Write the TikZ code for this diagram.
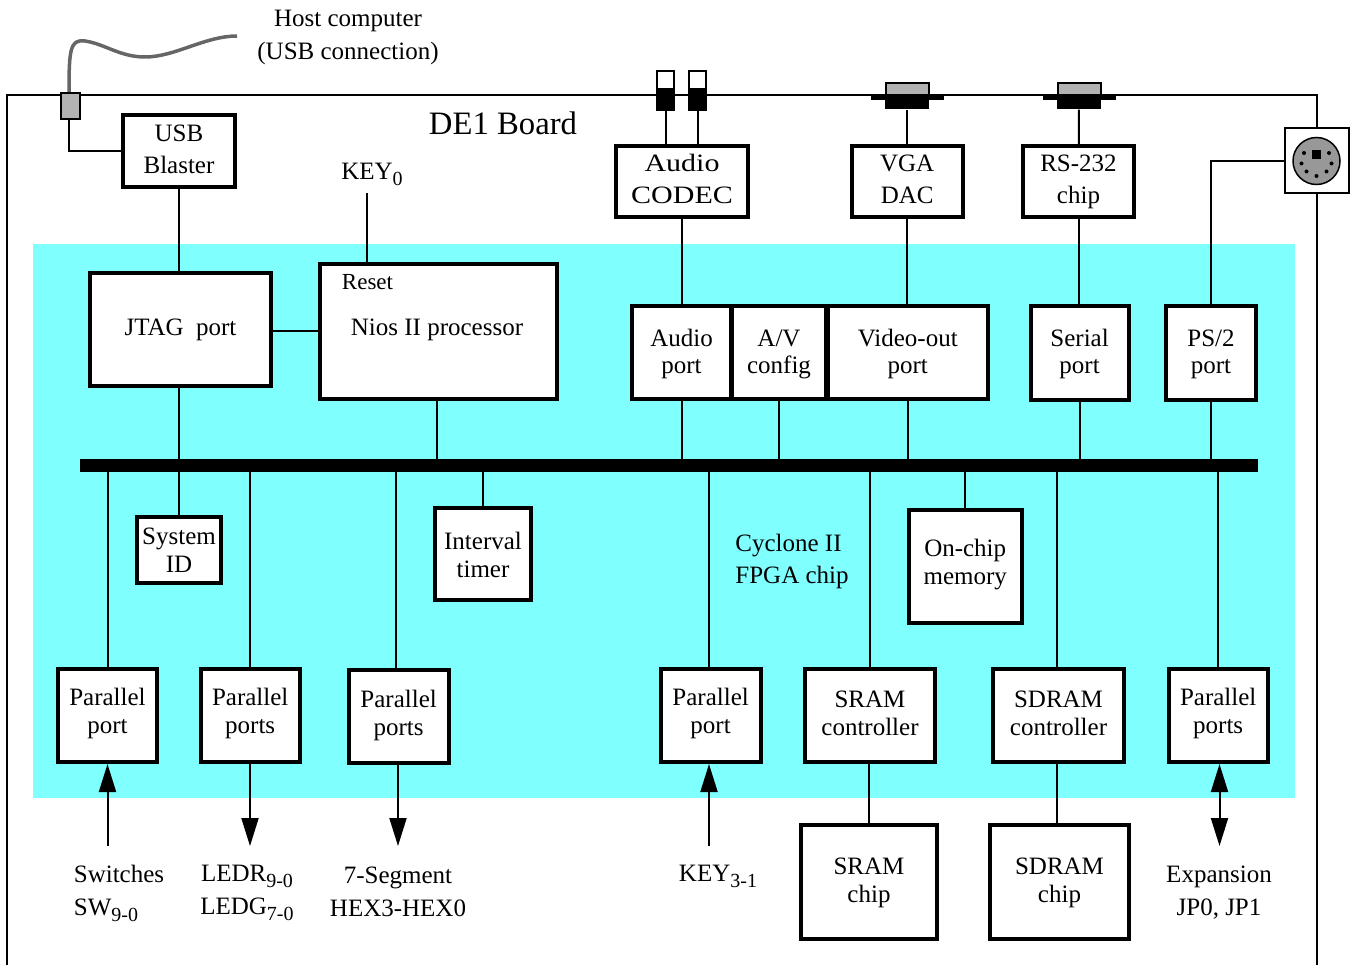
\documentclass[tikz,border=0pt]{standalone}
\usepackage{amsmath}
\usepackage{fontspec}
\setmainfont{Liberation Serif}
\newfontfamily\widefont[FakeStretch=1.2]{Liberation Serif}
\usetikzlibrary{arrows.meta, positioning}
\definecolor{fpga}{HTML}{80FFFF}
\definecolor{metal}{HTML}{B3B3B3}
\newcommand{\low}[1]{\raisebox{-6pt}{\fontsize{20}{20}\selectfont #1}}

\begin{document}
\begin{tikzpicture}[x=1pt, y=-1pt,
  box/.style={draw, fill=white, line width=4pt, align=center, inner sep=0pt, font=\fontsize{25}{28}\selectfont},
  lbox/.style={box, font=\fontsize{25}{32}\selectfont},
  wbox/.style={box, font=\widefont\fontsize{25}{32}\selectfont},
  boxsize/.style 2 args={minimum width=#1pt+2pt, minimum height=#2pt+2pt},
  textrise/.style={text height=#1pt, text depth=0pt},
  part/.style={draw, line width=2pt, inner sep=0pt},
  solid part/.style={fill=black, inner sep=0pt},
  lab/.style={align=center, inner sep=0pt, font=\fontsize{25}{33}\selectfont},
  wire/.style={line width=2pt},
  arrow/.style={line width=2pt, -{Stealth[inset=0pt, length=28pt, width=17pt]}},
  darrow/.style={line width=2pt, {Stealth[inset=0pt, length=28pt, width=17pt]}-{Stealth[inset=0pt, length=28pt, width=17pt]}}
]
  \useasboundingbox (0,0) rectangle (1352,965);

  % board and chip
  \coordinate (bl) at (7,965);
  \coordinate (tl) at (7,95);
  \coordinate (tr) at (1317,95);
  \coordinate (br) at (1317,965);
  \draw[wire] (bl) -- (tl) -- (tr) -- (br);
  \node[fill=fpga, inner sep=0pt, minimum width=1262pt, minimum height=554pt] (chip) at (664,521) {};
  \node[lab, font=\fontsize{32.7}{36}\selectfont] (board) at (503,123) {DE1 Board};
  \node[lab, align=left, font=\fontsize{25}{32}\selectfont] (cyclone) at (792,561) {Cyclone II\\FPGA chip};

  % connectors on the board edge
  \node[part, fill=metal, minimum width=19pt, minimum height=26pt] (usbconn) at (70.5,106) {};
  \draw[line width=3.5pt, black!60] ([xshift=-1.5pt]usbconn.north) .. controls (69,50) and (70,39) .. (85,41)
    .. controls (105,44) and (120,57) .. (145,57) .. controls (175,57) and (205,36) .. (237,36);
  \node[lab] (host) at (348,37) {Host computer\\(USB connection)};

  \foreach \name/\xpos in {jacka/665.7, jackb/697.7} {
    \node[part, fill=white, minimum width=17pt, minimum height=18pt] (\name top) at (\xpos,80) {};
    \node[solid part, minimum width=19pt, minimum height=23pt] (\name) at (\xpos,99.5) {};
  }
  \foreach \name/\xpos in {vga/907.2, rs/1079} {
    \node[part, fill=metal, minimum width=43pt, minimum height=12pt] (\name top) at (\xpos,89) {};
    \node[solid part, minimum width=73pt, minimum height=5pt] (\name flange) at (\xpos,97.5) {};
    \node[solid part, minimum width=44pt, minimum height=10pt] (\name conn) at (\xpos,104.5) {};
  }
  \node[draw, fill=white, line width=2pt, minimum width=64pt, minimum height=65pt, inner sep=0pt] (psconn) at (1316.5,161) {};
  \node[draw, fill=metal!85!black, line width=1.5pt, circle, minimum size=47pt, inner sep=0pt] (psdin) at (psconn) {};
  \node[solid part, minimum size=9pt] (pskey) at (1316.5,154.5) {};
  \foreach \dx/\dy in {-12.5/-8, 12.5/-8, -15/2.5, 15/2.5, -10/10.5, 10/10.5, 0/15}
    \fill (1316.5+\dx,161+\dy) circle (2pt);

  % boxes above the bus
  \node[lbox, boxsize={110}{70}, textrise=46] (usb) at (179,151) {USB\\Blaster};
  \node[wbox, boxsize={130}{69}, textrise=45] (codec) at (682,181.5) {Audio\\CODEC};
  \node[lbox, boxsize={109}{69}, textrise=45] (dac) at (907.2,181.5) {VGA\\DAC};
  \node[lbox, boxsize={109}{69}, textrise=45] (rs232) at (1078.5,181.5) {RS-232\\chip};
  \node[box, boxsize={179}{111}] (jtag) at (180.5,330) {JTAG~ port};
  \node[box, boxsize={235}{133}] (nios) at (438.5,331.5) {};
  \node[lab, font=\fontsize{23}{26}\selectfont] (reset) at (367.5,282) {Reset};
  \node[lab] (cpu) at (437,330) {Nios II processor};
  \node[lab] (key0) at (372,174) {KEY\low{0}};
  \node[box, boxsize={97}{91}, textrise=43] (audio) at (681.5,352.5) {Audio\\port};
  \node[box, boxsize={92}{91}, textrise=43] (av) at (779,352.5) {A/V\\config};
  \node[box, boxsize={158}{91}, textrise=43] (video) at (907.8,352.5) {Video-out\\port};
  \node[box, boxsize={96}{92}, textrise=42] (serial) at (1079.6,353) {Serial\\port};
  \node[box, boxsize={88}{92}, textrise=42] (ps2) at (1211,353) {PS/2\\port};

  % bus
  \node[solid part, minimum width=1178pt, minimum height=13pt] (bus) at (669,465.5) {};

  % boxes below the bus
  \node[box, boxsize={82}{64}, textrise=44] (sysid) at (179,550) {System\\ID};
  \node[box, boxsize={94}{90}, textrise=46] (timer) at (483,554) {Interval\\timer};
  \node[box, boxsize={111}{111}, textrise=35] (onchip) at (965.2,566.5) {On-chip\\memory};
  \node[box, boxsize={97}{91}, textrise=35] (sw) at (107.5,715.5) {Parallel\\port};
  \node[box, boxsize={97}{91}, textrise=35] (led) at (250.2,715.5) {Parallel\\ports};
  \node[box, boxsize={98}{91}, textrise=37] (hex) at (398.6,716.5) {Parallel\\ports};
  \node[box, boxsize={98}{91}, textrise=35] (keys) at (710.6,715.5) {Parallel\\port};
  \node[box, boxsize={128}{91}, textrise=39] (sramc) at (870,715.5) {SRAM\\controller};
  \node[box, boxsize={129}{91}, textrise=39] (sdramc) at (1058.5,715.5) {SDRAM\\controller};
  \node[box, boxsize={97}{91}, textrise=35] (gpio) at (1218.2,715.5) {Parallel\\ports};
  \node[box, boxsize={134}{112}, textrise=40] (sram) at (869,882) {SRAM\\chip};
  \node[box, boxsize={137}{112}, textrise=40] (sdram) at (1059.5,882) {SDRAM\\chip};

  % outside labels
  \node[lab, align=left] (swlab) at (119,893) {Switches\\SW\low{9-0}};
  \node[lab] (ledlab) at (247,893) {LEDR\low{9-0}\\LEDG\low{7-0}};
  \node[lab] (hexlab) at (398,892) {7-Segment\\HEX3-HEX0};
  \node[lab] (keylab) at (718,876) {KEY\low{3-1}};
  \node[lab] (gpiolab) at (1219,892.5) {Expansion\\JP0, JP1};

  \coordinate (swend) at (107.5,846);
  \coordinate (ledend) at (250,846);
  \coordinate (hexend) at (398,846);
  \coordinate (keyend) at (709,846);
  \coordinate (gpioend) at (1219.5,846);
  \coordinate (keytop) at (367,193);

  % wires
  \draw[wire] ([xshift=-1.5pt]usbconn.south) |- (usb.west);
  \draw[wire] (usb) -- (usb |- jtag.north);
  \draw[wire] (jtag.east |- 0,331) -- (nios.west |- 0,331);
  \draw[wire] (keytop) -- (keytop |- nios.north);
  \draw[wire] (jacka) -- (jacka |- codec.north);
  \draw[wire] (jackb) -- (jackb |- codec.north);
  \draw[wire] (vgaconn) -- (dac);
  \draw[wire] (rsconn) -- (rs232);
  \draw[wire] (codec.south) -- (codec.south |- audio.north);
  \draw[wire] (dac.south) -- (dac.south |- video.north);
  \draw[wire] (rs232.south) -- (rs232.south |- serial.north);
  \draw[wire] (psconn.west) -| (ps2.north);
  \draw[wire] (jtag.south -| usb) -- (usb |- bus.north);
  \draw[wire] (cpu |- nios.south) -- (cpu |- bus.north);
  \foreach \top in {audio, av, video, serial, ps2}
    \draw[wire] (\top.south) -- (\top.south |- bus.north);
  \draw[wire] (bus.south -| sw) -- (sw.north);
  \draw[wire] (bus.south -| sysid) -- (sysid.north);
  \draw[wire] (bus.south -| led) -- (led.north);
  \draw[wire] ([xshift=-3pt]bus.south -| hex) -- ([xshift=-3pt]hex.north);
  \draw[wire] (bus.south -| timer) -- (timer.north);
  \draw[wire] ([xshift=-2pt]bus.south -| keys) -- ([xshift=-2pt]keys.north);
  \draw[wire] (bus.south -| sramc) -- (sramc.north);
  \draw[wire] (bus.south -| onchip) -- (onchip.north);
  \draw[wire] ([xshift=-1.5pt]bus.south -| sdramc) -- ([xshift=-1.5pt]sdramc.north);
  \draw[wire] (bus.south -| gpio) -- (gpio.north);
  \draw[wire] (sramc.south -| sram) -- (sram.north);
  \draw[wire] ([xshift=-1.5pt]sdramc.south) -- ([xshift=-1.5pt]sdramc.south |- sdram.north);

  % arrows
  \draw[arrow] (swend) -- (swend |- sw.south);
  \draw[arrow] (ledend |- led.south) -- (ledend);
  \draw[arrow] (hexend |- hex.south) -- (hexend);
  \draw[arrow] (keyend) -- (keyend |- keys.south);
  \draw[darrow] (gpioend |- gpio.south) -- (gpioend);
\end{tikzpicture}
\end{document}
